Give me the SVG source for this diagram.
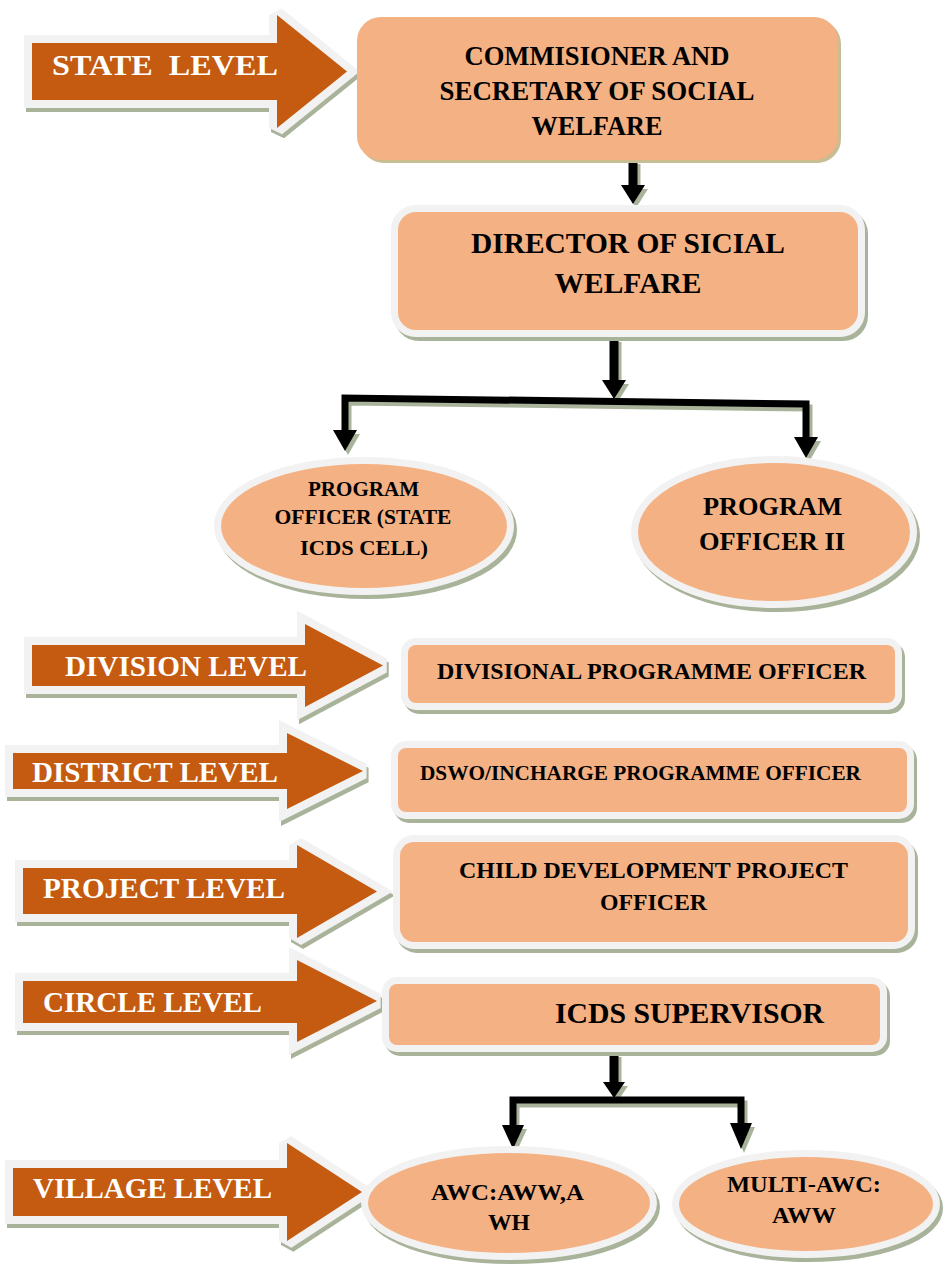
<svg xmlns="http://www.w3.org/2000/svg" xmlns:xlink="http://www.w3.org/1999/xlink" width="946" height="1264" viewBox="0 0 946 1264">
  <style>
    .bg { fill: #ffffff; }
    /* level arrows: drop shadow, pale rim, orange body */
    .lvl-shadow { fill: #a9b39a; stroke: #a9b39a; stroke-width: 16; stroke-linejoin: miter; stroke-miterlimit: 2; }
    .lvl-rim { fill: #f2f2f2; stroke: #f2f2f2; stroke-width: 16; stroke-linejoin: miter; stroke-miterlimit: 2; }
    .lvl-body { fill: #c55a11; }
    .lvl-text { fill: #ffffff; font-family: "Liberation Serif", "Times New Roman", serif; font-weight: bold; font-size: 29px; white-space: pre; }
    /* office nodes */
    .node-shadow { fill: #a9b39a; stroke: #a9b39a; stroke-width: 14; }
    .node-rim { fill: #f2f2f2; stroke: #f2f2f2; stroke-width: 14; }
    .node-fill { fill: #f4b183; }
    .node-text { fill: #000000; font-family: "Liberation Serif", "Times New Roman", serif; font-weight: bold; text-anchor: middle; }
    /* connectors */
    .conn-line { fill: none; stroke: currentColor; stroke-width: 9; stroke-linejoin: miter; }
    .conn-bar { fill: none; stroke: currentColor; stroke-width: 7; stroke-linejoin: miter; }
    .conn-head { fill: currentColor; stroke: none; }
  </style>
  <defs>
    <!-- level arrow outlines -->
    <path id="arr-state" d="M32,43 H277 V15 L347,71.5 L277,128 V100 H32 Z"/>
    <path id="arr-division" d="M32,645 H305 V624 L383,665.5 L305,707 V686 H32 Z"/>
    <path id="arr-district" d="M13,753 H287 V733 L363,771 L287,809 V789 H13 Z"/>
    <path id="arr-project" d="M23,868 H297 V845 L377,891.5 L297,938 V914 H23 Z"/>
    <path id="arr-circle" d="M23,981 H297 V960 L377,1001 L297,1042 V1023 H23 Z"/>
    <path id="arr-village" d="M13,1168 H287 V1143 L362,1192 L287,1241 V1216 H13 Z"/>

    <!-- connector artwork, drawn once as shadow and once in black -->
    <g id="conn-art">
      <!-- commissioner to director -->
      <path class="conn-line" d="M633,160 V186"/>
      <polygon class="conn-head" points="621,185 645,185 633,204"/>
      <!-- director to program officers -->
      <path class="conn-line" d="M614,338 V381"/>
      <polygon class="conn-head" points="602,380 626,380 614,399"/>
      <path class="conn-bar" d="M345,432 V398 L806,404 V439"/>
      <polygon class="conn-head" points="333,430 357,430 345,451"/>
      <polygon class="conn-head" points="794,437 818,437 806,458"/>
      <!-- supervisor to village centres -->
      <path class="conn-line" d="M614,1053 V1083"/>
      <polygon class="conn-head" points="603,1082 625,1082 614,1098"/>
      <path class="conn-bar" d="M513,1127 V1100 H741 V1125"/>
      <polygon class="conn-head" points="502,1125 524,1125 513,1149"/>
      <polygon class="conn-head" points="730,1123 752,1123 741,1149"/>
    </g>
  </defs>

  <rect class="bg" x="0" y="0" width="946" height="1264"/>

  <!-- level arrows -->
  <g id="lvl-state">
    <use xlink:href="#arr-state" class="lvl-shadow" transform="translate(2,4)"/>
    <use xlink:href="#arr-state" class="lvl-rim"/>
    <use xlink:href="#arr-state" class="lvl-body"/>
    <text class="lvl-text" x="52" y="75" font-size="30" textLength="226" lengthAdjust="spacingAndGlyphs">STATE  LEVEL</text>
  </g>
  <g id="lvl-division">
    <use xlink:href="#arr-division" class="lvl-shadow" transform="translate(2,4)"/>
    <use xlink:href="#arr-division" class="lvl-rim"/>
    <use xlink:href="#arr-division" class="lvl-body"/>
    <text class="lvl-text" x="65" y="676" textLength="242" lengthAdjust="spacingAndGlyphs">DIVISION LEVEL</text>
  </g>
  <g id="lvl-district">
    <use xlink:href="#arr-district" class="lvl-shadow" transform="translate(2,4)"/>
    <use xlink:href="#arr-district" class="lvl-rim"/>
    <use xlink:href="#arr-district" class="lvl-body"/>
    <text class="lvl-text" x="32" y="782" textLength="246" lengthAdjust="spacingAndGlyphs">DISTRICT LEVEL</text>
  </g>
  <g id="lvl-project">
    <use xlink:href="#arr-project" class="lvl-shadow" transform="translate(2,4)"/>
    <use xlink:href="#arr-project" class="lvl-rim"/>
    <use xlink:href="#arr-project" class="lvl-body"/>
    <text class="lvl-text" x="43" y="898" textLength="242" lengthAdjust="spacingAndGlyphs">PROJECT LEVEL</text>
  </g>
  <g id="lvl-circle">
    <use xlink:href="#arr-circle" class="lvl-shadow" transform="translate(2,4)"/>
    <use xlink:href="#arr-circle" class="lvl-rim"/>
    <use xlink:href="#arr-circle" class="lvl-body"/>
    <text class="lvl-text" x="43" y="1012" textLength="219" lengthAdjust="spacingAndGlyphs">CIRCLE LEVEL</text>
  </g>
  <g id="lvl-village">
    <use xlink:href="#arr-village" class="lvl-shadow" transform="translate(2,4)"/>
    <use xlink:href="#arr-village" class="lvl-rim"/>
    <use xlink:href="#arr-village" class="lvl-body"/>
    <text class="lvl-text" x="33" y="1198" textLength="239" lengthAdjust="spacingAndGlyphs">VILLAGE LEVEL</text>
  </g>

  <!-- connectors -->
  <g id="connectors">
    <use xlink:href="#conn-art" style="color:#a9b39a" transform="translate(3,4)"/>
    <use xlink:href="#conn-art" style="color:#000000"/>
  </g>

  <!-- office nodes -->
  <g id="commissioner">
    <rect x="360" y="20" width="481" height="143" rx="24" fill="#c9bd94"/>
    <rect class="node-fill" x="357" y="17" width="481" height="143" rx="24"/>
    <text class="node-text" x="597" y="65" font-size="26.5" textLength="265" lengthAdjust="spacingAndGlyphs">COMMISIONER AND</text>
    <text class="node-text" x="597" y="100" font-size="26.5" textLength="315" lengthAdjust="spacingAndGlyphs">SECRETARY OF SOCIAL</text>
    <text class="node-text" x="597" y="135" font-size="26.5" textLength="131" lengthAdjust="spacingAndGlyphs">WELFARE</text>
  </g>

  <g id="director">
    <rect class="node-shadow" x="401" y="216" width="460" height="118" rx="18"/>
    <rect class="node-rim" x="398" y="212" width="460" height="118" rx="18"/>
    <rect class="node-fill" x="398" y="212" width="460" height="118" rx="18"/>
    <text class="node-text" x="628" y="253" font-size="29" textLength="314" lengthAdjust="spacingAndGlyphs">DIRECTOR OF SICIAL</text>
    <text class="node-text" x="628" y="293" font-size="29" textLength="147" lengthAdjust="spacingAndGlyphs">WELFARE</text>
  </g>

  <g id="program-officer-state">
    <ellipse class="node-shadow" cx="367" cy="530" rx="143" ry="62"/>
    <ellipse class="node-rim" cx="364" cy="526" rx="143" ry="62"/>
    <ellipse class="node-fill" cx="364" cy="526" rx="143" ry="62"/>
    <text class="node-text" x="363.5" y="496" font-size="21.5" textLength="111" lengthAdjust="spacingAndGlyphs">PROGRAM</text>
    <text class="node-text" x="363" y="524" font-size="21.5" textLength="177" lengthAdjust="spacingAndGlyphs">OFFICER (STATE</text>
    <text class="node-text" x="364" y="555" font-size="21.5" textLength="128" lengthAdjust="spacingAndGlyphs">ICDS CELL)</text>
  </g>

  <g id="program-officer-2">
    <ellipse class="node-shadow" cx="777" cy="536" rx="136" ry="69"/>
    <ellipse class="node-rim" cx="774" cy="532" rx="136" ry="69"/>
    <ellipse class="node-fill" cx="774" cy="532" rx="136" ry="69"/>
    <text class="node-text" x="772.5" y="515" font-size="26" textLength="139" lengthAdjust="spacingAndGlyphs">PROGRAM</text>
    <text class="node-text" x="772" y="550" font-size="26" textLength="146" lengthAdjust="spacingAndGlyphs">OFFICER II</text>
  </g>

  <g id="divisional-officer">
    <rect class="node-shadow" x="411" y="649" width="487" height="58" rx="8"/>
    <rect class="node-rim" x="408" y="645" width="487" height="58" rx="8"/>
    <rect class="node-fill" x="408" y="645" width="487" height="58" rx="8"/>
    <text class="node-text" x="651.5" y="679" font-size="24" textLength="429" lengthAdjust="spacingAndGlyphs">DIVISIONAL PROGRAMME OFFICER</text>
  </g>

  <g id="district-officer">
    <rect class="node-shadow" x="401" y="752" width="509" height="64" rx="8"/>
    <rect class="node-rim" x="398" y="748" width="509" height="64" rx="8"/>
    <rect class="node-fill" x="398" y="748" width="509" height="64" rx="8"/>
    <text class="node-text" x="640.5" y="780" font-size="21.3" textLength="441" lengthAdjust="spacingAndGlyphs">DSWO/INCHARGE PROGRAMME OFFICER</text>
  </g>

  <g id="cdpo">
    <rect class="node-shadow" x="403" y="846" width="508" height="100" rx="14"/>
    <rect class="node-rim" x="400" y="842" width="508" height="100" rx="14"/>
    <rect class="node-fill" x="400" y="842" width="508" height="100" rx="14"/>
    <text class="node-text" x="653.5" y="878" font-size="24" textLength="389" lengthAdjust="spacingAndGlyphs">CHILD DEVELOPMENT PROJECT</text>
    <text class="node-text" x="653.5" y="910" font-size="24" textLength="107" lengthAdjust="spacingAndGlyphs">OFFICER</text>
  </g>

  <g id="icds-supervisor">
    <rect class="node-shadow" x="392" y="988" width="491" height="61" rx="8"/>
    <rect class="node-rim" x="389" y="984" width="491" height="61" rx="8"/>
    <rect class="node-fill" x="389" y="984" width="491" height="61" rx="8"/>
    <text class="node-text" x="689.5" y="1023" font-size="29.5" textLength="269" lengthAdjust="spacingAndGlyphs">ICDS SUPERVISOR</text>
  </g>

  <g id="awc">
    <ellipse class="node-shadow" cx="512" cy="1207" rx="141" ry="50"/>
    <ellipse class="node-rim" cx="509" cy="1203" rx="141" ry="50"/>
    <ellipse class="node-fill" cx="509" cy="1203" rx="141" ry="50"/>
    <text class="node-text" x="507.5" y="1200" font-size="23.5" textLength="153" lengthAdjust="spacingAndGlyphs">AWC:AWW,A</text>
    <text class="node-text" x="509" y="1230" font-size="23.5" textLength="42" lengthAdjust="spacingAndGlyphs">WH</text>
  </g>

  <g id="multi-awc">
    <ellipse class="node-shadow" cx="809" cy="1208" rx="127" ry="47"/>
    <ellipse class="node-rim" cx="806" cy="1204" rx="127" ry="47"/>
    <ellipse class="node-fill" cx="806" cy="1204" rx="127" ry="47"/>
    <text class="node-text" x="804" y="1192" font-size="23.5" textLength="154" lengthAdjust="spacingAndGlyphs">MULTI-AWC:</text>
    <text class="node-text" x="804" y="1223" font-size="23.5" textLength="64" lengthAdjust="spacingAndGlyphs">AWW</text>
  </g>
</svg>
